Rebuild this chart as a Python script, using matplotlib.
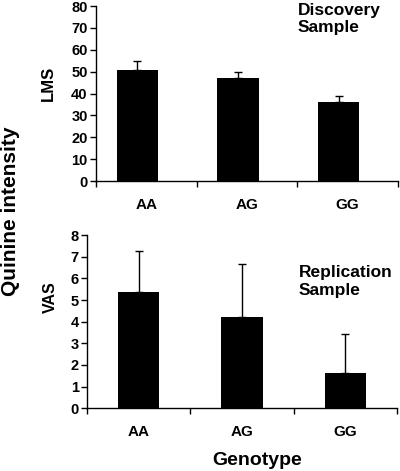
import numpy as np
import matplotlib
matplotlib.use("Agg")
import matplotlib.pyplot as plt

plt.rcParams['font.family'] = ['Liberation Sans', 'DejaVu Sans']
plt.rcParams['font.weight'] = 'bold'

# Genotype groups
genotypes = ["AA", "AG", "GG"]

# Discovery sample (LMS)
lms_mean = [51, 47, 36]
lms_err = [4, 3, 3]

# Replication sample (VAS)
vas_mean = [5.35, 4.2, 1.62]
vas_err = [1.9, 2.45, 1.82]

fig = plt.figure(figsize=(4.0, 4.71), dpi=100)

ax1 = fig.add_axes([0.24, 0.6157, 0.755, 0.3713])
ax2 = fig.add_axes([0.2175, 0.1331, 0.775, 0.3679])

x = np.arange(len(genotypes))


def style_axis(ax, ymax, ystep):
    for side in ["top", "right"]:
        ax.spines[side].set_visible(False)
    ax.spines["left"].set_linewidth(1.0)
    ax.spines["bottom"].set_linewidth(1.0)
    ax.set_xlim(-0.5, 2.5)
    ax.set_ylim(0, ymax)
    ax.set_yticks(np.arange(0, ymax + ystep / 2, ystep))
    ax.set_xticks([-0.5, 0.5, 1.5, 2.5])
    ax.set_xticklabels([])
    ax.set_xticks(x, minor=True)
    ax.set_xticklabels(genotypes, minor=True, fontsize=11, fontweight='bold')
    ax.tick_params(axis='x', which='minor', length=0, pad=12)
    ax.tick_params(axis='x', which='major', length=4, width=1.0, direction='out')
    ax.tick_params(axis='y', length=4, width=1.0, labelsize=10.5, pad=2)
    for lab in ax.get_yticklabels():
        lab.set_fontweight('bold')


ekw = dict(ecolor='black', elinewidth=1.0, capsize=3, capthick=1.0)

# Top panel: discovery sample
ax1.bar(x - 0.09, lms_mean, width=0.41, color='black',
        yerr=[np.zeros(3), lms_err], error_kw=ekw)
style_axis(ax1, 80, 10)
ax1.text(-0.157, 0.56, "LMS", transform=ax1.transAxes, rotation=90,
         fontsize=12, fontweight='bold', ha='center', va='center')
ax1.text(0.667, 1.02, "Discovery\nSample", transform=ax1.transAxes, fontsize=12.5,
         fontweight='bold', va='top', ha='left', linespacing=1.2)

# Bottom panel: replication sample
ax2.bar(x, vas_mean, width=0.4, color='black',
        yerr=[np.zeros(3), vas_err], error_kw=ekw)
style_axis(ax2, 8, 1)
ax2.text(-0.119, 0.64, "VAS", transform=ax2.transAxes, rotation=90,
         fontsize=11.5, fontweight='bold', ha='center', va='center')
ax2.text(0.682, 0.825, "Replication\nSample", transform=ax2.transAxes, fontsize=12.5,
         fontweight='bold', va='top', ha='left', linespacing=1.2)

fig.text(0.6425, 0.0127, "Genotype", fontsize=14, fontweight='bold',
         ha='center', va='baseline')
fig.text(0.026, 0.552, "Quinine intensity", rotation=90, fontsize=15,
         fontweight='bold', ha='center', va='center')

fig.savefig("out.png", dpi=100)
